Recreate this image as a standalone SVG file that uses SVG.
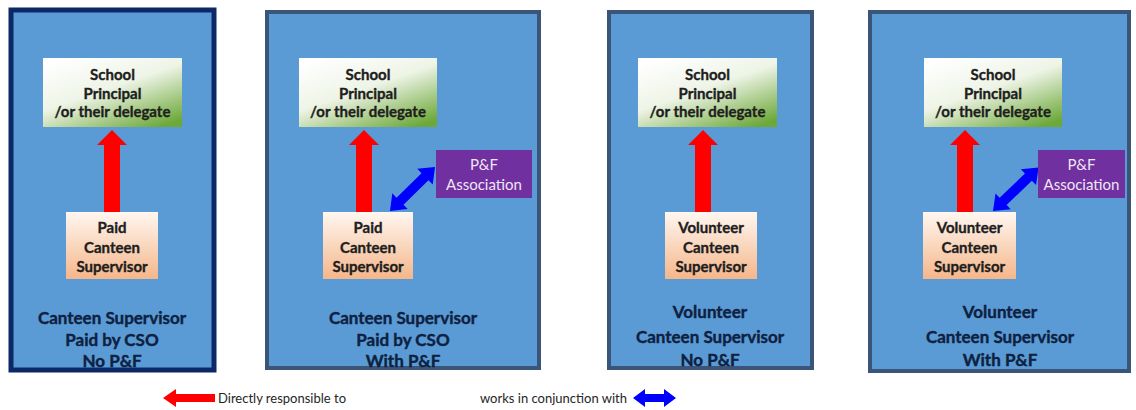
<svg xmlns="http://www.w3.org/2000/svg" width="1136" height="410" viewBox="0 0 1136 410">
  <defs>
    <linearGradient id="gPrincipal" x1="0.15" y1="0" x2="0.85" y2="1">
      <stop offset="0" stop-color="#ffffff"/>
      <stop offset="0.45" stop-color="#eef4e6"/>
      <stop offset="1" stop-color="#6da839"/>
    </linearGradient>
    <linearGradient id="gSupervisor" x1="0" y1="0" x2="0" y2="1">
      <stop offset="0" stop-color="#fff7f1"/>
      <stop offset="1" stop-color="#f5b68a"/>
    </linearGradient>
    <!-- upward red arrow, tip at (0,0), base at y=82 -->
    <polygon id="redUp" points="0,0 15,15 8,15 8,82 -8,82 -8,15 -15,15"/>
    <!-- blue double arrow along +x, length 63 -->
    <polygon id="blueBoth" points="0,0 14,-11 14,-5 49,-5 49,-11 63,0 49,11 49,5 14,5 14,11"/>
  </defs>
  <style>
    .panel { fill: #5b9bd5; stroke: #3b5578; stroke-width: 4; }
    .panel.first { stroke: #0c2867; stroke-width: 5; }
    .principal { fill: url(#gPrincipal); }
    .super { fill: url(#gSupervisor); }
    .pf { fill: #7030a0; }
    .red { fill: #ff0000; }
    .blue { fill: #0000ff; }
    text { font-family: Lato, "Liberation Sans", sans-serif; text-anchor: middle; }
    .box { font-size: 15px; font-weight: bold; fill: #1e1e1e; stroke: #1e1e1e; stroke-width: 0.35; }
    .pft { font-size: 15px; fill: #eee6f4; }
    .cap { font-size: 17px; font-weight: bold; fill: #0e2141; stroke: #0e2141; stroke-width: 0.4; }
    .legend { font-size: 13px; fill: #262626; text-anchor: start; }
  </style>

  <rect width="1136" height="410" fill="#ffffff"/>

  <!-- panel backgrounds -->
  <g id="panels">
    <rect id="panel1" class="panel first" x="11" y="10" width="203" height="360"/>
    <rect id="panel2" class="panel" x="267" y="12" width="272" height="356"/>
    <rect id="panel3" class="panel" x="609" y="12" width="203" height="356"/>
    <rect id="panel4" class="panel" x="870" y="12" width="259" height="359"/>
  </g>

  <!-- connectors -->
  <g id="connectors">
    <use href="#redUp" class="red" x="112" y="130"/>
    <use href="#redUp" class="red" x="364" y="130"/>
    <use href="#redUp" class="red" x="703" y="130"/>
    <use href="#redUp" class="red" x="965" y="130"/>
    <use href="#blueBoth" class="blue" transform="translate(390,211) rotate(-44.4)"/>
    <use href="#blueBoth" class="blue" transform="translate(993,211) rotate(-43.7)"/>
  </g>

  <!-- panel 1 -->
  <g id="p1-principal">
    <rect class="principal" x="43" y="58" width="139" height="69"/>
    <text class="box" x="112.5" y="80">School</text>
    <text class="box" x="112.5" y="98.5">Principal</text>
    <text class="box" x="112.5" y="117">/or their delegate</text>
  </g>
  <g id="p1-supervisor">
    <rect class="super" x="66" y="212" width="92" height="67"/>
    <text class="box" x="112" y="233">Paid</text>
    <text class="box" x="112" y="253">Canteen</text>
    <text class="box" x="112" y="272">Supervisor</text>
  </g>
  <g id="p1-caption">
    <text class="cap" x="112" y="324">Canteen Supervisor</text>
    <text class="cap" x="112" y="346">Paid by CSO</text>
    <text class="cap" x="112" y="367">No P&amp;F</text>
  </g>

  <!-- panel 2 -->
  <g id="p2-principal">
    <rect class="principal" x="299" y="58" width="138" height="69"/>
    <text class="box" x="368" y="80">School</text>
    <text class="box" x="368" y="98.5">Principal</text>
    <text class="box" x="368" y="117">/or their delegate</text>
  </g>
  <g id="p2-supervisor">
    <rect class="super" x="323" y="212" width="90" height="67"/>
    <text class="box" x="368" y="233">Paid</text>
    <text class="box" x="368" y="253">Canteen</text>
    <text class="box" x="368" y="272">Supervisor</text>
  </g>
  <g id="p2-association">
    <rect class="pf" x="436" y="150" width="96" height="48"/>
    <text class="pft" x="484" y="170">P&amp;F</text>
    <text class="pft" x="484" y="190">Association</text>
  </g>
  <g id="p2-caption">
    <text class="cap" x="403" y="324">Canteen Supervisor</text>
    <text class="cap" x="403" y="346">Paid by CSO</text>
    <text class="cap" x="403" y="367">With P&amp;F</text>
  </g>

  <!-- panel 3 -->
  <g id="p3-principal">
    <rect class="principal" x="638" y="58" width="139" height="69"/>
    <text class="box" x="707.5" y="80">School</text>
    <text class="box" x="707.5" y="98.5">Principal</text>
    <text class="box" x="707.5" y="117">/or their delegate</text>
  </g>
  <g id="p3-supervisor">
    <rect class="super" x="665" y="212" width="92" height="67"/>
    <text class="box" x="711" y="233">Volunteer</text>
    <text class="box" x="711" y="253">Canteen</text>
    <text class="box" x="711" y="272">Supervisor</text>
  </g>
  <g id="p3-caption">
    <text class="cap" x="710" y="318">Volunteer</text>
    <text class="cap" x="710" y="343">Canteen Supervisor</text>
    <text class="cap" x="710" y="366">No P&amp;F</text>
  </g>

  <!-- panel 4 -->
  <g id="p4-principal">
    <rect class="principal" x="924" y="58" width="138" height="69"/>
    <text class="box" x="993" y="80">School</text>
    <text class="box" x="993" y="98.5">Principal</text>
    <text class="box" x="993" y="117">/or their delegate</text>
  </g>
  <g id="p4-supervisor">
    <rect class="super" x="923" y="212" width="93" height="67"/>
    <text class="box" x="969.5" y="233">Volunteer</text>
    <text class="box" x="969.5" y="253">Canteen</text>
    <text class="box" x="969.5" y="272">Supervisor</text>
  </g>
  <g id="p4-association">
    <rect class="pf" x="1038" y="150" width="87" height="48"/>
    <text class="pft" x="1081.5" y="170">P&amp;F</text>
    <text class="pft" x="1081.5" y="190">Association</text>
  </g>
  <g id="p4-caption">
    <text class="cap" x="1000" y="318">Volunteer</text>
    <text class="cap" x="1000" y="343">Canteen Supervisor</text>
    <text class="cap" x="1000" y="366">With P&amp;F</text>
  </g>

  <!-- legend -->
  <g id="legend">
    <polygon class="red" points="163,398 176,389 176,394 215,394 215,402 176,402 176,407"/>
    <text class="legend" x="218" y="403">Directly responsible to</text>
    <text class="legend" x="480" y="403">works in conjunction with</text>
    <polygon class="blue" points="633,398 645,389 645,394 664,394 664,389 676,398 664,407 664,402 645,402 645,407"/>
  </g>
</svg>
